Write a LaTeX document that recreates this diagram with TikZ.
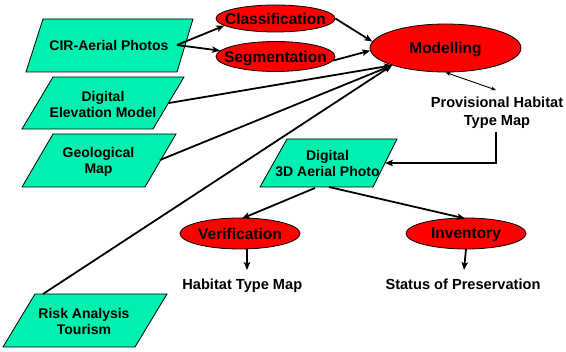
\documentclass[tikz,border=0pt]{standalone}
\usepackage{fontspec}
\setmainfont{Liberation Sans}
\usetikzlibrary{shapes.geometric,arrows.meta}
\definecolor{mint}{RGB}{0,240,176}
\newcommand{\zw}[1]{\makebox[0pt]{#1}}
\begin{document}
\begin{tikzpicture}[x=1pt,y=-1pt,
  para/.style={draw=black, line width=0.8pt, fill=mint, line join=miter},
  ptxt/.style={font=\bfseries\fontsize{14}{16}\selectfont, align=center, inner sep=0pt, anchor=base, text=black},
  ell/.style={ellipse, draw=black, line width=0.8pt, fill=red, text=black, inner sep=0pt, text depth=0pt, font=\bfseries\fontsize{15.5}{18}\selectfont},
  plain/.style={font=\bfseries\fontsize{14.6}{18.4}\selectfont, align=center, inner sep=0pt, anchor=base, text=black},
  conn/.style={line width=1.8pt, -{Stealth[length=8pt,width=6.5pt,inset=2pt]}},
  thinconn/.style={line width=0.9pt, {Stealth[length=5pt,width=4pt]}-{Stealth[length=5pt,width=4pt]}},
]
\useasboundingbox (0,0) rectangle (566,352);
% parallelograms
\draw[para] (43,19) -- (193,19) -- (177,72) -- (26,72) -- cycle;
\draw[para] (53,77) -- (184,77) -- (153,129) -- (22,129) -- cycle;
\draw[para] (53,134) -- (176,134) -- (145,187) -- (22,187) -- cycle;
\draw[para] (35,294) -- (167,294) -- (135,347) -- (3,347) -- cycle;
\draw[para] (287,139) -- (397,139) -- (373,187) -- (260,187) -- cycle;
\node[ptxt] (cir) at (109,50.7) {CIR-Aerial Photos};
\node[ptxt] (dem) at (103,117.3) {Digital\\Elevation Model};
\node[ptxt] (geo) at (98.5,174) {Geological\\Map};
\node[ptxt] (risk) at (84,334.3) {Risk Analysis\\Tourism};
\node[ptxt] (photo) at (327.5,176.7) {Digital\\3D Aerial Photo};
% ellipses
\node[ell, minimum width=119pt, minimum height=27pt] (cls) at (275.5,18.5) {\zw{Classification}};
\node[ell, minimum width=119pt, minimum height=30pt] (seg) at (275.5,56.5) {\zw{Segmentation}};
\node[ell, minimum width=151pt, minimum height=48pt] (mod) at (445.5,48) {\zw{Modelling}};
\node[ell, minimum width=120pt, minimum height=31pt] (ver) at (240,233.5) {\zw{Verification}};
\node[ell, minimum width=120pt, minimum height=31pt] (inv) at (466,233.5) {\zw{Inventory}};
% plain texts
\node[plain] (prov) at (497,125.7) {Provisional Habitat\\Type Map};
\node[plain] (htm) at (242.3,289.3) {Habitat Type Map};
\node[plain] (sop) at (463,289.3) {Status of Preservation};
% connector end points
\coordinate (cirR) at (177,45);
\coordinate (demR) at (169,103);
\coordinate (geoR) at (160,160);
\coordinate (riskT) at (43,294);
\coordinate (hub) at (mod.198);
\coordinate (provT) at (496,90);
\coordinate (provB) at (496,132);
\coordinate (bend) at (496,163);
\coordinate (photoR) at (385,163);
\coordinate (photoB1) at (315,188);
\coordinate (photoB2) at (329,187);
\coordinate (verT) at (242,218.5);
\coordinate (invT) at (465,218.5);
\coordinate (verB) at (247,249);
\coordinate (htmT) at (247,270);
\coordinate (invB) at (466,249);
\coordinate (sopT) at (464,270);
% connectors
\draw[conn] (cirR) -- (cls.188);
\draw[conn] (cirR) -- (seg.174);
\draw[conn] (cls.east) -- (mod.175);
\draw[conn] (seg.-4) -- (mod.182);
\draw[conn] (demR) -- (hub);
\draw[conn] (geoR) -- (hub);
\draw[conn] (riskT) -- (hub);
\draw[thinconn] (mod.south) -- (provT);
\draw[conn] (provB) -- (bend) -- (photoR);
\draw[conn] (photoB1) -- (verT);
\draw[conn] (photoB2) -- (invT);
\draw[conn] (verB) -- (htmT);
\draw[conn] (invB) -- (sopT);
\end{tikzpicture}
\end{document}
